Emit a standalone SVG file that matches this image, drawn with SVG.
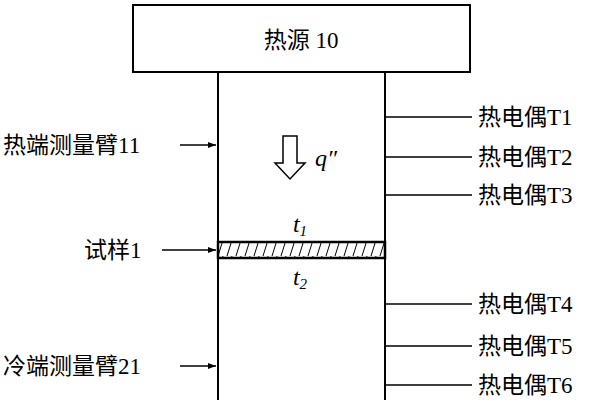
<svg xmlns="http://www.w3.org/2000/svg" width="602" height="400" viewBox="0 0 602 400">
<defs>
<style>
.l{stroke:#000;stroke-width:2;fill:none}
.c{font-family:"Liberation Serif","Noto Sans CJK SC",serif;font-size:23px;fill:#000}
.i{font-family:"Liberation Serif",serif;font-style:italic;font-size:24px}
</style>
<marker id="a" markerWidth="8" markerHeight="6" refX="8" refY="3" orient="auto" markerUnits="userSpaceOnUse"><path d="M0,0 L8,3 L0,6Z"/></marker>
<pattern id="h" width="9" height="16" patternUnits="userSpaceOnUse"><path d="M2,16 L7,0" stroke="#000" stroke-width="1"/></pattern>
</defs>
<rect width="602" height="400" fill="#fff"/>
<g id="source"><rect x="133" y="5" width="337" height="67" class="l"/><text x="301" y="48" text-anchor="middle" class="c">热源 10</text></g>
<g id="column"><path d="M218,72 V400 M385,72 V400" class="l"/></g>
<g id="sample"><rect x="218" y="242" width="167" height="16" style="fill:url(#h);stroke:#000;stroke-width:2.5"/>
<text x="300" y="232" text-anchor="middle" class="i">t<tspan font-size="15" dy="4">1</tspan></text>
<text x="300" y="285" text-anchor="middle" class="i">t<tspan font-size="15" dy="4">2</tspan></text></g>
<g id="flux"><path d="M283,136 H297 V163 H305 L290,179 L275,163 H283Z" fill="#fff" stroke="#000" stroke-width="1.5"/><text x="315" y="166" class="i">q″</text></g>
<g id="connectors" stroke="#000" stroke-width="1.5">
<path d="M180,145 H216" marker-end="url(#a)"/>
<path d="M162,250 H216" marker-end="url(#a)"/>
<path d="M180,366 H216" marker-end="url(#a)"/>
<path d="M385,117 H472 M385,157 H472 M385,195 H472 M385,304 H472 M385,346 H472 M385,385 H472"/>
</g>
<g id="labels-left">
<text x="3" y="153" class="c">热端测量臂11</text>
<text x="84" y="258" class="c">试样1</text>
<text x="3" y="374" class="c">冷端测量臂21</text>
</g>
<g id="labels-right">
<text x="478" y="125" class="c">热电偶T1</text>
<text x="478" y="165" class="c">热电偶T2</text>
<text x="478" y="203" class="c">热电偶T3</text>
<text x="478" y="312" class="c">热电偶T4</text>
<text x="478" y="354" class="c">热电偶T5</text>
<text x="478" y="393" class="c">热电偶T6</text>
</g>
</svg>
